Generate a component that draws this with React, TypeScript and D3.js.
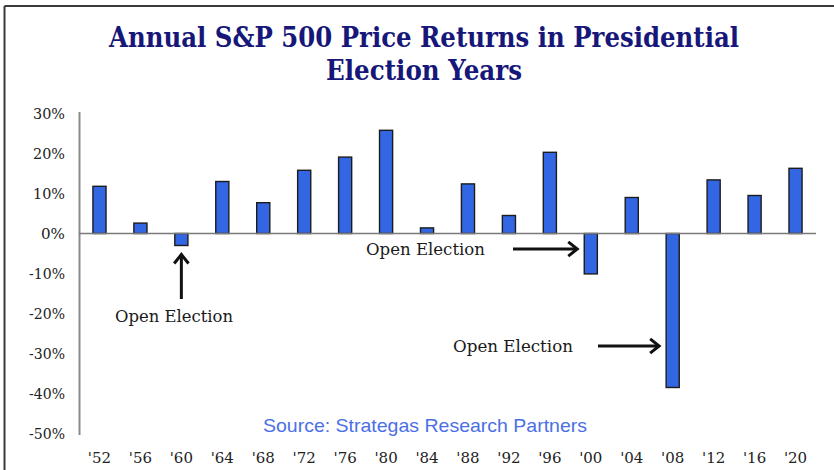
import React from "react";
import * as d3 from "d3";

const years = ["'52", "'56", "'60", "'64", "'68", "'72", "'76", "'80", "'84", "'88", "'92", "'96", "'00", "'04", "'08", "'12", "'16", "'20"];
const returns = [11.8, 2.6, -3.0, 13.0, 7.7, 15.8, 19.1, 25.8, 1.4, 12.4, 4.5, 20.3, -10.1, 9.0, -38.5, 13.4, 9.5, 16.3];
const yTicks = [30, 20, 10, 0, -10, -20, -30, -40, -50];
const titleLines = ["Annual S&P 500 Price Returns in Presidential", "Election Years"];
const sourceText = "Source: Strategas Research Partners";
const annotationLabel = "Open Election";

const W = 834;
const H = 470;

export default function App() {
  const x = d3.scaleBand<string>().domain(years).range([79, 816]).paddingInner(0.68).paddingOuter(0.34);
  const y = d3.scaleLinear().domain([-50, 30]).range([433.5, 113.5]);
  const serif = "'DejaVu Serif', 'Liberation Serif', serif";
  const bw = x.bandwidth();
  const cx = (yr: string) => (x(yr) as number) + bw / 2;

  const arrowHead = (tx: number, ty: number, dir: "up" | "right") => {
    const s = 9;
    if (dir === "up") return `M${tx - s * 0.8},${ty + s} L${tx},${ty} L${tx + s * 0.8},${ty + s}`;
    return `M${tx - s},${ty - s * 0.8} L${tx},${ty} L${tx - s},${ty + s * 0.8}`;
  };

  const a1x = cx("'60");
  const a1top = y(-3.0) + 9;
  const a2y = 249;
  const a2end = (x("'00") as number) - 7;
  const a3y = 346;
  const a3end = (x("'08") as number) - 7;

  return (
    <svg width={W} height={H} style={{ position: "absolute", left: 0, top: 0, background: "#fff" }}>
      <rect x={0} y={0} width={W} height={H} fill="#fff" />
      <line x1={4.5} y1={6} x2={W} y2={6} stroke="#3a3a3a" strokeWidth={2} />
      <line x1={4.5} y1={6} x2={4.5} y2={H} stroke="#3a3a3a" strokeWidth={2} />

      {titleLines.map((t, i) => (
        <text key={i} x={424} y={47 + i * 33} textAnchor="middle" fontFamily={serif} fontWeight="bold" fontSize={27}
          fill="#17177a" textLength={i === 0 ? 630 : 196} lengthAdjust="spacingAndGlyphs">{t}</text>
      ))}

      {yTicks.map((t) => (
        <text key={t} x={65} y={y(t) + 5} textAnchor="end" fontFamily={serif} fontSize={15} fill="#222"
          textLength={t < 0 ? 36 : t === 0 ? 24 : 32} lengthAdjust="spacingAndGlyphs">{t}%</text>
      ))}

      <line x1={79.5} y1={112} x2={79.5} y2={435} stroke="#8a8a8a" strokeWidth={2} />

      {years.map((yr, i) => {
        const v = returns[i];
        const y0 = y(0);
        const y1 = y(v);
        return (
          <rect key={yr} x={x(yr)} y={Math.min(y0, y1)} width={bw} height={Math.abs(y1 - y0)}
            fill="#3366e3" stroke="#1c1c1c" strokeWidth={1.4} />
        );
      })}

      <line x1={79} y1={y(0)} x2={816} y2={y(0)} stroke="#7a7a7a" strokeWidth={1.6} />

      {years.map((yr) => (
        <text key={yr} x={cx(yr)} y={463} textAnchor="middle" fontFamily={serif} fontSize={15} fill="#222">{yr}</text>
      ))}

      <text x={425} y={432} textAnchor="middle" fontFamily="'Liberation Sans', Arial, sans-serif" fontSize={19}
        fill="#4b70e6" textLength={324} lengthAdjust="spacingAndGlyphs">{sourceText}</text>

      {/* annotation 1: '60 */}
      <line x1={a1x} y1={a1top + 1} x2={a1x} y2={299} stroke="#111" strokeWidth={3} />
      <path d={arrowHead(a1x, a1top, "up")} fill="none" stroke="#111" strokeWidth={3} />
      <text x={174} y={322} textAnchor="middle" fontFamily={serif} fontSize={17} fill="#1a1a1a" textLength={118} lengthAdjust="spacingAndGlyphs">{annotationLabel}</text>

      {/* annotation 2: '00 */}
      <line x1={513} y1={a2y} x2={a2end - 1} y2={a2y} stroke="#111" strokeWidth={3} />
      <path d={arrowHead(a2end, a2y, "right")} fill="none" stroke="#111" strokeWidth={3} />
      <text x={425.5} y={255} textAnchor="middle" fontFamily={serif} fontSize={17} fill="#1a1a1a" textLength={119} lengthAdjust="spacingAndGlyphs">{annotationLabel}</text>

      {/* annotation 3: '08 */}
      <line x1={598} y1={a3y} x2={a3end - 1} y2={a3y} stroke="#111" strokeWidth={3} />
      <path d={arrowHead(a3end, a3y, "right")} fill="none" stroke="#111" strokeWidth={3} />
      <text x={513} y={352} textAnchor="middle" fontFamily={serif} fontSize={17} fill="#1a1a1a" textLength={120} lengthAdjust="spacingAndGlyphs">{annotationLabel}</text>
    </svg>
  );
}
